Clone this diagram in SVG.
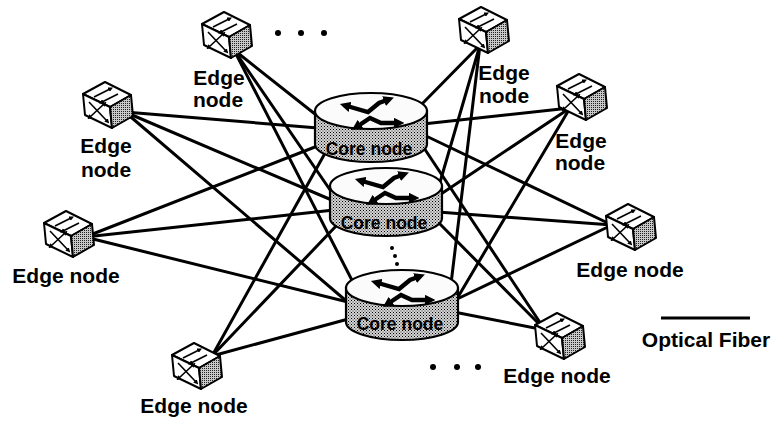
<svg xmlns="http://www.w3.org/2000/svg" xmlns:xlink="http://www.w3.org/1999/xlink" width="776" height="423" viewBox="0 0 776 423">
<style>
.lbl{font-family:"Liberation Sans",Arial,sans-serif;font-weight:bold;font-size:21px;fill:#000;text-anchor:middle}
.ct{font-family:"Liberation Sans",Arial,sans-serif;font-weight:bold;font-size:17.5px;fill:#000;text-anchor:middle}
.cside{fill:url(#stip);stroke:#000;stroke-width:2.2}
.ctop{fill:#fbfbfb;stroke:#000;stroke-width:2.2}
.dot{fill:#000}
</style>
<defs>
<pattern id="stip" patternUnits="userSpaceOnUse" width="3" height="3">
<rect width="3" height="3" fill="#d4d4d4"/>
<rect x="0" y="0" width="1" height="1" fill="#000"/>
<rect x="1.5" y="1.5" width="1" height="1" fill="#333"/>
</pattern>
<pattern id="stip2" patternUnits="userSpaceOnUse" width="2" height="2">
<rect width="2" height="2" fill="#c8c8c8"/>
<rect x="0" y="0" width="1" height="1" fill="#222"/>
</pattern>
<marker id="ah" viewBox="0 0 10 10" refX="3" refY="5" markerWidth="2.4" markerHeight="2.4" orient="auto-start-reverse">
<path d="M0,0 L10,5 L0,10 z" fill="#000"/>
</marker>
<marker id="ahs" viewBox="0 0 10 10" refX="3" refY="5" markerWidth="3" markerHeight="3" orient="auto-start-reverse">
<path d="M0,0 L10,5 L0,10 z" fill="#000"/>
</marker>
<g id="router" fill="none" stroke="#000" stroke-width="4.4" stroke-linejoin="miter">
<path d="M-24,-5 L-3,1 L8,-8 L16,-11" marker-start="url(#ah)" marker-end="url(#ah)"/>
<path d="M-13,15 L-1,7 L10,12 L26,12" marker-start="url(#ah)" marker-end="url(#ah)"/>
</g>
<g id="cube" stroke="#000" stroke-width="2" stroke-linejoin="round">
<path d="M-24,-11 L-2,-23 L24,-10 L3,2 Z" fill="#fff"/>
<path d="M-24,-11 L3,2 L5,23 L-22,10 Z" fill="#fff"/>
<path d="M3,2 L24,-10 L26,11 L5,23 Z" fill="url(#stip2)"/>
<g fill="none" stroke-width="1.6">
<path d="M-13,-8 L3,-16" marker-end="url(#ahs)"/>
<path d="M-5,-3 L11,-11" marker-start="url(#ahs)"/>
<path d="M-18,-3 L0,16" marker-end="url(#ahs)"/>
<path d="M-17,12 L-3,-1" marker-start="url(#ahs)" marker-end="url(#ahs)"/>
</g>
</g>
</defs>
<rect width="776" height="423" fill="#fff"/>

<g id="connectors" stroke="#000" stroke-width="3" stroke-linecap="round" fill="none">
<line x1="234" y1="50" x2="320" y2="118"/>
<line x1="234" y1="50" x2="337" y2="200"/>
<line x1="234" y1="50" x2="358" y2="292"/>
<line x1="480" y1="45" x2="420" y2="106"/>
<line x1="480" y1="45" x2="436" y2="196"/>
<line x1="480" y1="45" x2="450" y2="292"/>
<line x1="570" y1="108" x2="423" y2="124"/>
<line x1="570" y1="108" x2="438" y2="196"/>
<line x1="570" y1="108" x2="455" y2="302"/>
<line x1="125" y1="112" x2="318" y2="128"/>
<line x1="125" y1="112" x2="334" y2="201"/>
<line x1="125" y1="112" x2="351" y2="305"/>
<line x1="85" y1="237" x2="320" y2="145"/>
<line x1="85" y1="237" x2="334" y2="210"/>
<line x1="85" y1="237" x2="352" y2="303"/>
<line x1="612" y1="225" x2="424" y2="135"/>
<line x1="612" y1="225" x2="438" y2="212"/>
<line x1="612" y1="225" x2="455" y2="300"/>
<line x1="545" y1="330" x2="424" y2="148"/>
<line x1="545" y1="330" x2="436" y2="220"/>
<line x1="545" y1="330" x2="454" y2="312"/>
<line x1="212" y1="356" x2="324" y2="155"/>
<line x1="212" y1="356" x2="337" y2="225"/>
<line x1="212" y1="356" x2="352" y2="318"/>
</g>

<g id="core1">
<path class="cside" d="M315,111 V144 A56,18 0 0 0 427,144 V111 Z"/>
<ellipse class="ctop" cx="371" cy="111" rx="56" ry="18"/>
<use xlink:href="#router" href="#router" x="371" y="111"/>
<text class="ct" x="369" y="155">Core node</text>
</g>
<g id="core2">
<path class="cside" d="M330,186 V218 A56,18 0 0 0 442,218 V186 Z"/>
<ellipse class="ctop" cx="386" cy="186" rx="56" ry="18"/>
<use xlink:href="#router" href="#router" x="386" y="186"/>
<text class="ct" x="384" y="229">Core node</text>
</g>
<g id="core3">
<path class="cside" d="M346,288 V322 A56,18 0 0 0 458,322 V288 Z"/>
<ellipse class="ctop" cx="402" cy="288" rx="56" ry="18"/>
<use xlink:href="#router" href="#router" x="402" y="288"/>
<text class="ct" x="400" y="330">Core node</text>
</g>

<g id="core-dots">
<circle class="dot" cx="392" cy="248" r="2"/>
<circle class="dot" cx="395" cy="256" r="2"/>
<circle class="dot" cx="397" cy="264" r="2"/>
</g>

<g id="edgeA">
<use xlink:href="#cube" href="#cube" x="226" y="35"/>
<text class="lbl" x="219" y="85">Edge</text>
<text class="lbl" x="218" y="107">node</text>
</g>
<g id="edgeB">
<use xlink:href="#cube" href="#cube" x="483" y="30"/>
<text class="lbl" x="504" y="80">Edge</text>
<text class="lbl" x="504" y="103">node</text>
</g>
<g id="edgeC">
<use xlink:href="#cube" href="#cube" x="581" y="97"/>
<text class="lbl" x="581" y="148">Edge</text>
<text class="lbl" x="580" y="170">node</text>
</g>
<g id="edgeD">
<use xlink:href="#cube" href="#cube" x="107" y="105"/>
<text class="lbl" x="106" y="153">Edge</text>
<text class="lbl" x="106" y="177">node</text>
</g>
<g id="edgeE">
<use xlink:href="#cube" href="#cube" x="68" y="234"/>
<text class="lbl" x="66" y="283">Edge node</text>
</g>
<g id="edgeF">
<use xlink:href="#cube" href="#cube" x="630" y="227"/>
<text class="lbl" x="630" y="277">Edge node</text>
</g>
<g id="edgeG">
<use xlink:href="#cube" href="#cube" x="559" y="336"/>
<text class="lbl" x="557" y="383">Edge node</text>
</g>
<g id="edgeH">
<use xlink:href="#cube" href="#cube" x="196" y="366"/>
<text class="lbl" x="194" y="413">Edge node</text>
</g>

<g id="dots-top">
<circle class="dot" cx="278" cy="33" r="3"/>
<circle class="dot" cx="301" cy="33" r="3"/>
<circle class="dot" cx="324" cy="33" r="3"/>
</g>
<g id="dots-bottom">
<circle class="dot" cx="433" cy="367" r="3"/>
<circle class="dot" cx="457" cy="367" r="3"/>
<circle class="dot" cx="478" cy="367" r="3"/>
</g>

<g id="legend">
<line x1="661" y1="318" x2="750" y2="318" stroke="#000" stroke-width="3"/>
<text class="lbl" x="706" y="347">Optical Fiber</text>
</g>
</svg>
